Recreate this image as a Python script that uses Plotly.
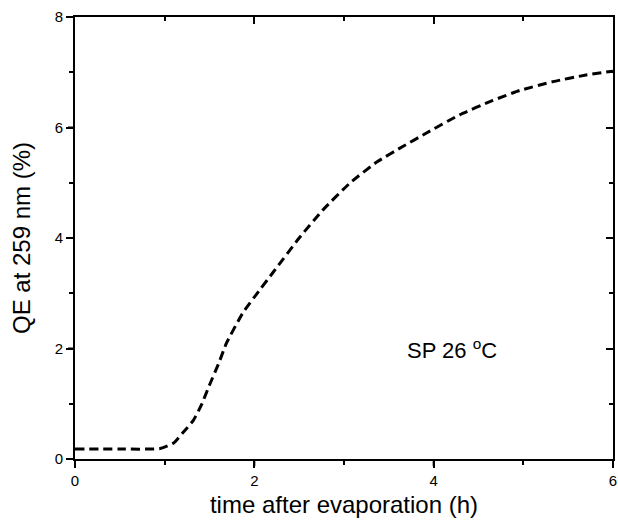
import plotly.graph_objects as go

# data
time_h = [0, 0.5, 0.95, 1.1, 1.2, 1.32, 1.41, 1.5, 1.6, 1.69, 1.87, 2.06, 2.21,
          2.5, 2.76, 3.07, 3.37, 3.66, 3.92, 4.29, 4.66, 4.96, 5.33, 5.7, 6.0]
qe = [0.18, 0.18, 0.19, 0.29, 0.47, 0.7, 0.98, 1.34, 1.72, 2.1, 2.64, 3.06, 3.38,
      4.0, 4.5, 5.0, 5.38, 5.66, 5.9, 6.23, 6.49, 6.67, 6.83, 6.95, 7.02]
x_range = [0, 6]
y_range = [0, 8]
x_ticks = [0, 2, 4, 6]
y_ticks = [0, 2, 4, 6, 8]
major_step = 2
minor_step = 1
annotation_text = "SP 26 <sup>o</sup>C"
annotation_pos = (3.68, 1.99)

font_family = "Liberation Sans, Arial, sans-serif"

W, H = 618, 527
ML, MR, MT, MB = 68, 5, 17, 61
TICK_LONG, TICK_SHORT = 7, 4
x_dom = [TICK_LONG / (W - ML - MR), 1]
y_dom = [TICK_LONG / (H - MT - MB), 1]

fig = go.Figure()
fig.add_trace(go.Scatter(
    x=time_h, y=qe, mode="lines",
    line=dict(color="black", width=3, dash="9px,5px", shape="spline", smoothing=0.5),
    showlegend=False, hoverinfo="skip"))
# invisible companion trace hosting the top/right (inside-tick) axes
fig.add_trace(go.Scatter(
    x=time_h, y=qe, mode="lines", xaxis="x2", yaxis="y2",
    line=dict(color="rgba(0,0,0,0)", width=0),
    showlegend=False, hoverinfo="skip"))

base = dict(showgrid=False, zeroline=False, linecolor="black", linewidth=2,
            tickcolor="black", tickwidth=2)


def minor(ticks, step, length):
    return dict(ticks=ticks, tick0=0, dtick=step, ticklen=length,
                tickwidth=2, tickcolor="black", showgrid=False)


def main_axis(rng, dom, **kw):
    d = dict(range=rng, domain=dom, tickmode="linear", tick0=0, dtick=major_step,
             ticks="outside", ticklen=TICK_LONG, showline=True,
             minor=minor("outside", minor_step, TICK_SHORT), **base)
    d.update(kw)
    return d


def mirror_axis(rng, **kw):
    d = dict(range=rng, tickmode="linear", tick0=0, dtick=major_step,
             ticks="inside", ticklen=TICK_LONG, showline=True, showticklabels=False,
             minor=minor("inside", minor_step, TICK_SHORT), **base)
    d.update(kw)
    return d


# long outside ticks at the labelled values, in the strips just outside the frame
tick_shapes = []
for v in x_ticks:
    tick_shapes.append(dict(type="line", xref="x", yref="paper", x0=v, x1=v,
                            y0=0, y1=y_dom[0], line=dict(color="black", width=2)))
for v in y_ticks:
    tick_shapes.append(dict(type="line", xref="paper", yref="y", x0=0, x1=x_dom[0],
                            y0=v, y1=v, line=dict(color="black", width=2)))

fig.update_layout(
    width=W, height=H,
    margin=dict(l=ML, r=MR, t=MT, b=MB, autoexpand=False),
    paper_bgcolor="white", plot_bgcolor="white",
    font=dict(family=font_family, color="black"),
    xaxis=main_axis(x_range, x_dom, tickfont=dict(size=15),
                    title=dict(text="time after evaporation (h)", font=dict(size=24),
                               standoff=8), automargin=False),
    yaxis=main_axis(y_range, y_dom, tickfont=dict(size=15),
                    title=dict(text="QE at 259 nm (%)", font=dict(size=24),
                               standoff=17), automargin=False),
    xaxis2=mirror_axis(x_range, overlaying="x", side="top", anchor="y2"),
    yaxis2=mirror_axis(y_range, overlaying="y", side="right", anchor="x2"),
    shapes=tick_shapes,
    annotations=[dict(x=annotation_pos[0], y=annotation_pos[1], xref="x", yref="y",
                      text=annotation_text, showarrow=False, xanchor="left",
                      yanchor="middle", font=dict(size=22))],
)

fig.write_html("out.html", config={"displayModeBar": False},
               post_script="document.body.style.margin='0';"
                           "document.body.style.overflow='hidden';")
